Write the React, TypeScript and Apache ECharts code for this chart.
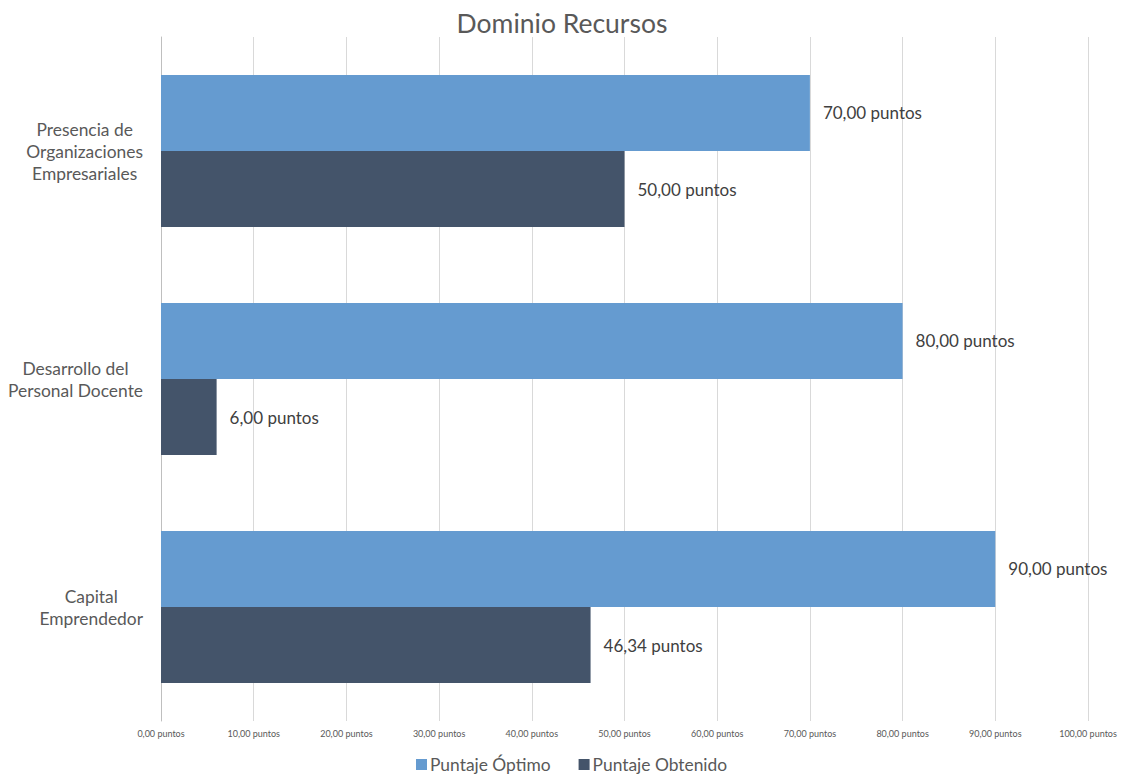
import React, { useEffect, useRef } from "react";
import * as echarts from "echarts";

const categories = [
  "Presencia de\nOrganizaciones\nEmpresariales",
  "Desarrollo del\nPersonal Docente",
  "Capital\nEmprendedor",
];
const optimo = [70, 80, 90];
const obtenido = [50, 6, 46.34];
const seriesNames = ["Puntaje Óptimo", "Puntaje Obtenido"];

const fmt = (v: number) => v.toFixed(2).replace(".", ",") + " puntos";
const FONT = "Lato, 'Open Sans', sans-serif";

export default function App() {
  const ref = useRef<HTMLDivElement>(null);
  useEffect(() => {
    document.body.style.margin = "0";
    const chart = echarts.init(ref.current!, null, { renderer: "svg" });
    const label = {
      show: true,
      position: "right" as const,
      distance: 13,
      formatter: (p: any) => fmt(p.value),
      color: "#404040",
      fontSize: 17,
      fontFamily: FONT,
    };
    chart.setOption({
      animation: false,
      backgroundColor: "#ffffff",
      title: {
        text: "Dominio Recursos",
        left: "center",
        top: 4,
        textStyle: { color: "#595959", fontSize: 26.5, fontWeight: "normal", fontFamily: FONT },
      },
      legend: {
        data: seriesNames,
        bottom: 1,
        left: 411,
        itemWidth: 11,
        itemHeight: 11,
        itemGap: 28,
        icon: "rect",
        textStyle: { color: "#595959", fontSize: 17.4, fontFamily: FONT, padding: [0, 0, 0, -2] },
      },
      grid: { left: 161, right: 36, top: 37, bottom: 58 },
      xAxis: {
        type: "value",
        min: 0,
        max: 100,
        interval: 10,
        axisLine: { show: false },
        axisTick: { show: false },
        splitLine: { lineStyle: { color: "#d9d9d9", width: 1 } },
        axisLabel: {
          formatter: (v: number) => fmt(v),
          color: "#595959",
          fontSize: 9,
          fontFamily: FONT,
          margin: 8,
        },
      },
      yAxis: {
        type: "category",
        data: categories,
        inverse: true,
        axisLine: { show: true, lineStyle: { color: "#bfbfbf" } },
        axisTick: { show: false },
        axisLabel: {
          align: "right",
          margin: 18,
          formatter: (v: string) =>
            v
              .split("\n")
              .map((l) => `{a|${l}}`)
              .join("\n"),
          rich: {
            a: {
              align: "center",
              color: "#595959",
              fontSize: 17.4,
              fontFamily: FONT,
              lineHeight: 22,
            },
          },
        },
      },
      series: [
        {
          name: seriesNames[0],
          type: "bar",
          data: optimo,
          itemStyle: { color: "#659BD0" },
          barGap: "0%",
          barCategoryGap: "33.3%",
          label,
        },
        {
          name: seriesNames[1],
          type: "bar",
          data: obtenido,
          itemStyle: { color: "#44546A" },
          barGap: "0%",
          barCategoryGap: "33.3%",
          label,
        },
      ],
    });
    return () => chart.dispose();
  }, []);
  return <div ref={ref} style={{ width: 1124, height: 779 }} />;
}
